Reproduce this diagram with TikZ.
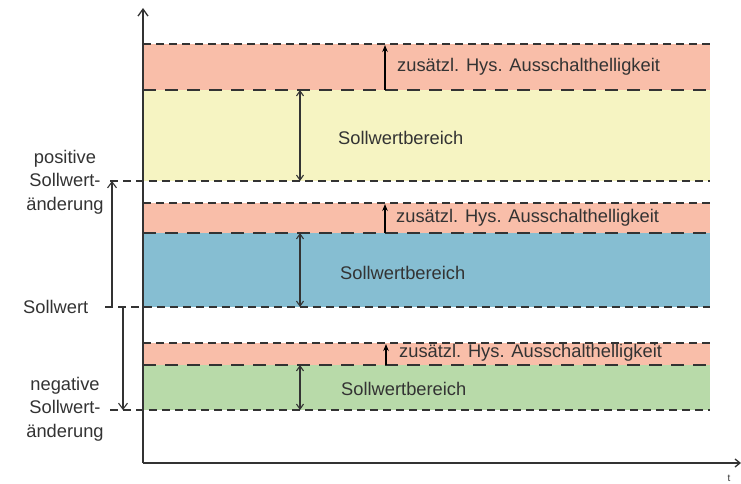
\documentclass[tikz,border=0pt]{standalone}
\usepackage{fontspec}
\setmainfont{Liberation Sans}
\usetikzlibrary{arrows.meta}
\definecolor{salmon}{HTML}{F9BEA9}
\definecolor{yel}{HTML}{F6F4C2}
\definecolor{blu}{HTML}{86BED2}
\definecolor{grn}{HTML}{B8DAA9}
\definecolor{ink}{HTML}{333333}
\tikzset{
  x=1pt, y=-1pt,
  axis/.style={draw=ink, line width=1.3pt},
  shortdash/.style={draw=ink, line width=1.1pt, dash pattern=on 8pt off 5pt},
  longdash/.style={draw=ink, line width=1.1pt, dash pattern=on 13pt off 9pt},
  dblarrow/.style={draw=ink, line width=1.1pt, {Straight Barb[length=5pt,width=7pt]}-{Straight Barb[length=5pt,width=7pt]}},
  uparrow/.style={draw=black, line width=1.1pt, -{Stealth[length=7pt,width=5.5pt]}},
  openarrow/.style={draw=ink, line width=1.1pt, -{Straight Barb[length=6pt,width=9pt]}},
  lbl/.style={font=\fontsize{18.3}{23.5}\selectfont, text=ink, inner sep=0pt},
  leftlbl/.style={lbl, align=center},
}
\begin{document}
\begin{tikzpicture}
\useasboundingbox (0,0) rectangle (741,484);
% bands
\fill[salmon] (143,44) rectangle (710,90);
\fill[yel] (143,90) rectangle (710,181);
\fill[salmon] (143,203) rectangle (710,233);
\fill[blu] (143,233) rectangle (710,307);
\fill[salmon] (143,343) rectangle (710,365);
\fill[grn] (143,365) rectangle (710,410);
% dashed lines
\draw[shortdash] (143,44) -- (710,44);
\draw[longdash] (143,90) -- (710,90);
\draw[shortdash] (110,181) -- (710,181);
\draw[shortdash] (143,203) -- (710,203);
\draw[longdash] (143,233) -- (710,233);
\draw[shortdash] (105,307) -- (710,307);
\draw[shortdash] (143,343) -- (710,343);
\draw[longdash] (143,365) -- (710,365);
\draw[shortdash] (110,410) -- (710,410);
% axes
\coordinate (o) at (143,463);
\coordinate (ytop) at (143,8);
\coordinate (xend) at (741,463);
\draw[axis, -{Straight Barb[length=7pt,width=10pt]}] (o) -- (ytop);
\draw[axis, -{Straight Barb[length=5pt,width=8pt]}] (o) -- (xend);
\node[font=\fontsize{10}{11}\selectfont, text=ink, inner sep=0pt] (t) at (729,478) {t};
% double arrows
\coordinate (a1) at (300,90); \coordinate (b1) at (300,181);
\coordinate (a2) at (300,233); \coordinate (b2) at (300,307);
\coordinate (a3) at (300,365); \coordinate (b3) at (300,410);
\draw[dblarrow] (a1) -- (b1);
\draw[dblarrow] (a2) -- (b2);
\draw[dblarrow] (a3) -- (b3);
% small up arrows
\coordinate (u1a) at (385,90); \coordinate (u1b) at (385,45);
\coordinate (u2a) at (385,233); \coordinate (u2b) at (385,204);
\coordinate (u3a) at (386,365); \coordinate (u3b) at (386,344);
\draw[uparrow] (u1a) -- (u1b);
\draw[uparrow] (u2a) -- (u2b);
\draw[uparrow] (u3a) -- (u3b);
% left arrows
\coordinate (p1) at (112,307); \coordinate (p2) at (112,181);
\coordinate (n1) at (123,307); \coordinate (n2) at (123,410);
\draw[openarrow] (p1) -- (p2);
\draw[openarrow] (n1) -- (n2);
% texts
\node[lbl, anchor=west] (h1) at (397,67) {zusätzl. Hys. Ausschalthelligkeit};
\node[lbl, anchor=west] (h2) at (396,218) {zusätzl. Hys. Ausschalthelligkeit};
\node[lbl, anchor=west] (h3) at (399,353) {zusätzl. Hys. Ausschalthelligkeit};
\node[lbl, anchor=west] (s1) at (338,138) {Sollwertbereich};
\node[lbl, anchor=west] (s2) at (340,273) {Sollwertbereich};
\node[lbl, anchor=west] (s3) at (341,389) {Sollwertbereich};
\node[leftlbl] (pos) at (65,182) {positive\\Sollwert-\\änderung};
\node[lbl, anchor=west] (sw) at (23,307) {Sollwert};
\node[leftlbl] (neg) at (65,409) {negative\\Sollwert-\\änderung};
\end{tikzpicture}
\end{document}
